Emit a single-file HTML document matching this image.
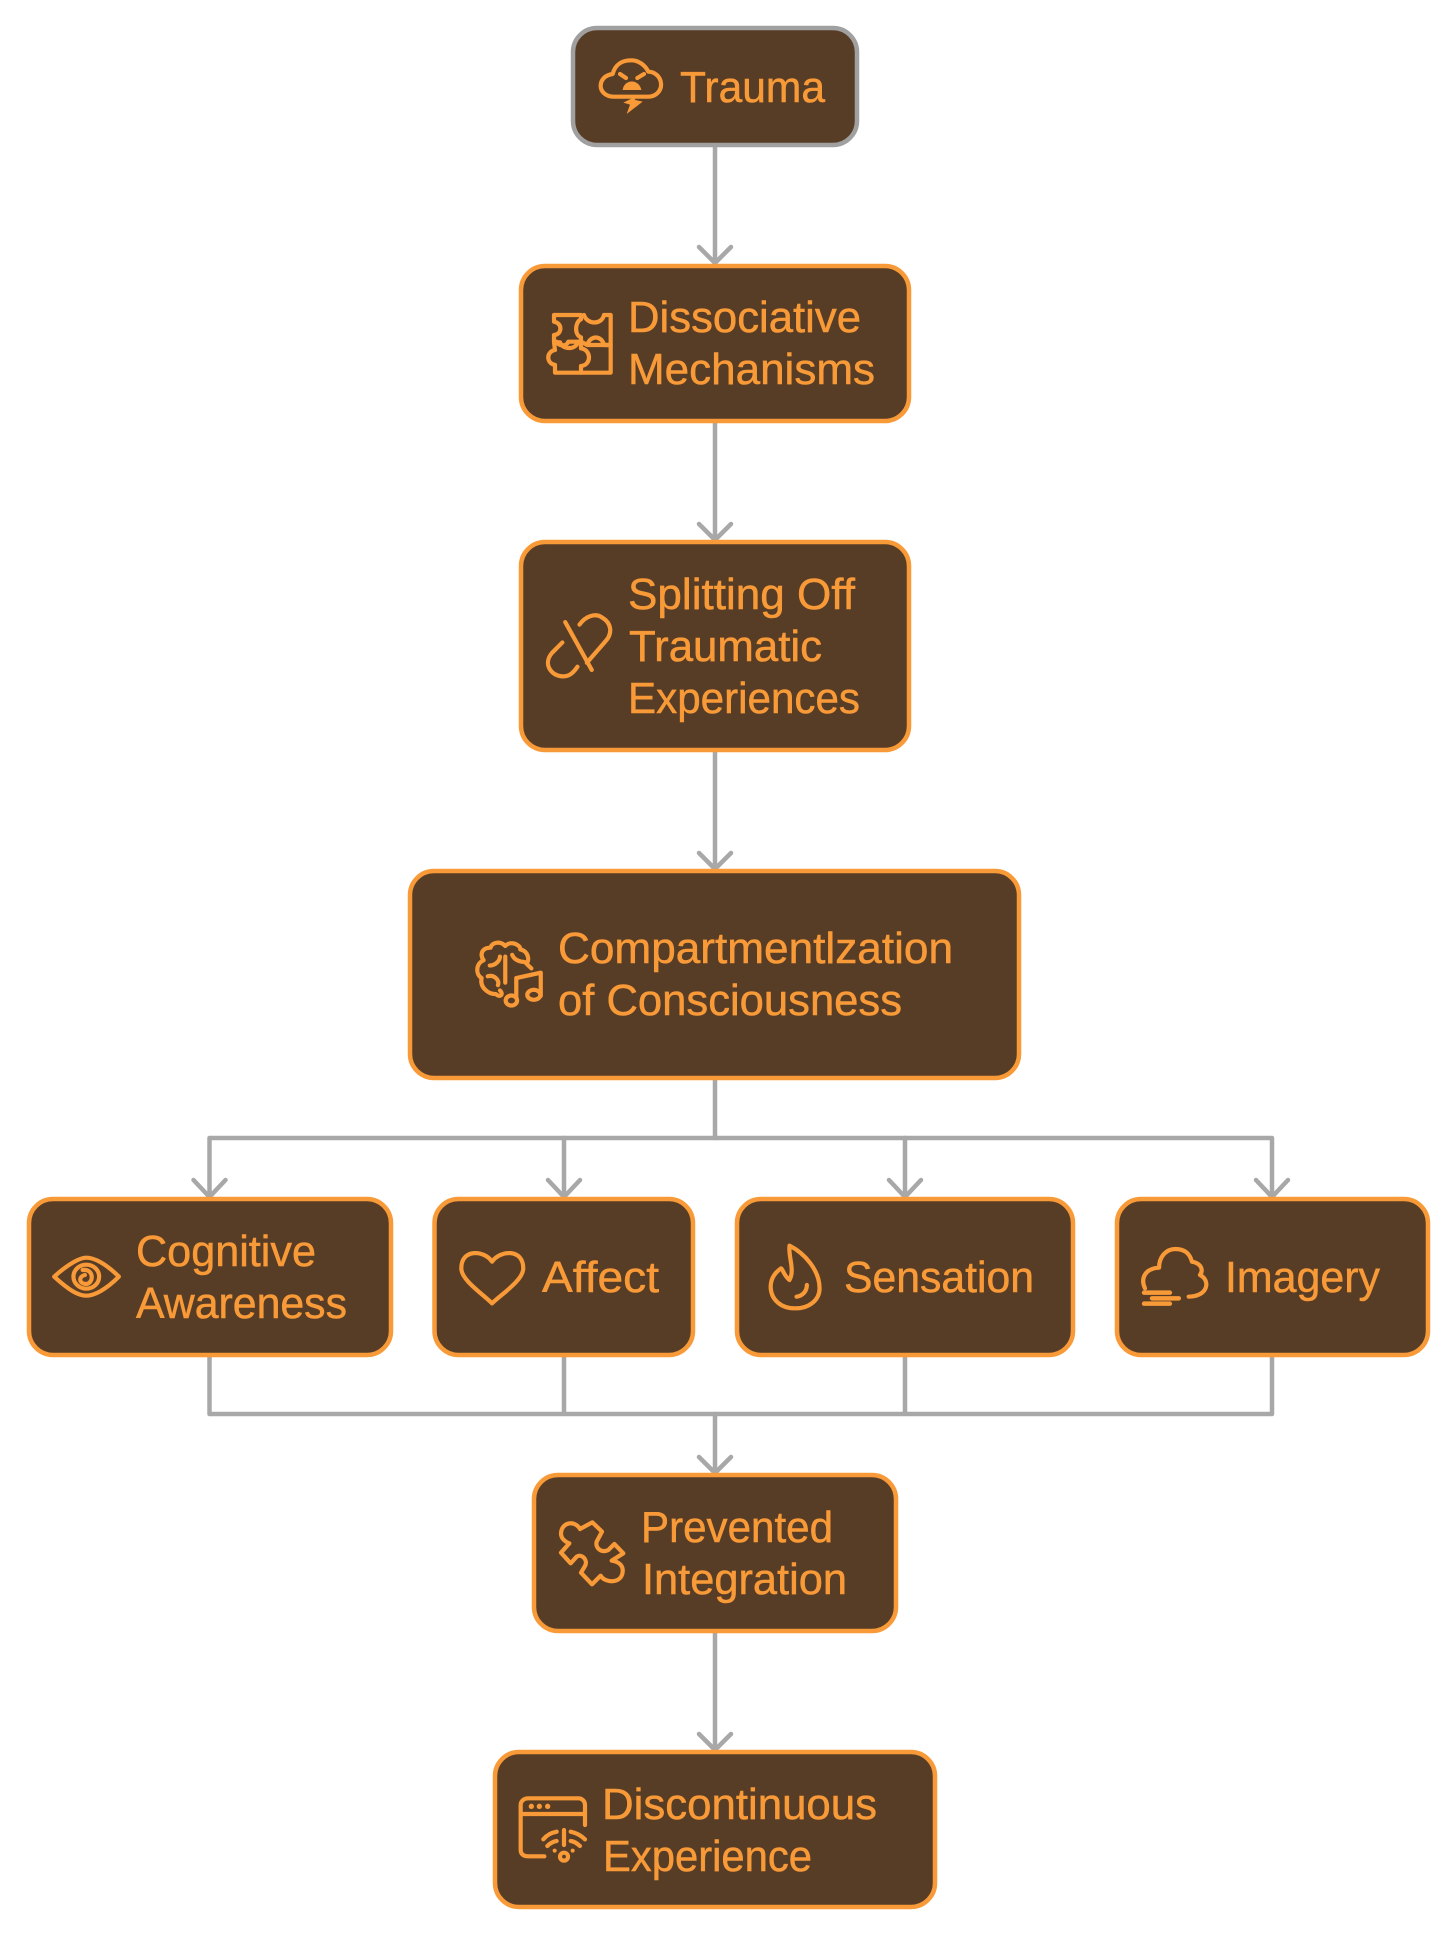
<!DOCTYPE html>
<html>
<head>
<meta charset="utf-8">
<style>
html,body{margin:0;padding:0;background:#fff;}
svg{display:block;}
text{font-family:"Liberation Sans",Arial,sans-serif;font-size:44px;fill:#f99a38;stroke:#f99a38;stroke-width:.5px;}
.n{fill:#583d26;stroke:#f99a38;stroke-width:4.500;}
.c{fill:none;stroke:#a8a8a8;stroke-width:4.500;stroke-linecap:round;stroke-linejoin:round;}
.i *{fill:none;stroke:#f99a38;stroke-width:4.200;stroke-linecap:round;stroke-linejoin:round;vector-effect:non-scaling-stroke;}
.i .f{fill:#f99a38;stroke:none;}
</style>
</head>
<body>
<svg width="1456" height="1936" viewBox="0 0 1456 1936" xmlns="http://www.w3.org/2000/svg">
<rect width="1456" height="1936" fill="#fff"/>

<!-- connectors -->
<g class="c">
<path d="M715 147V262M699 247L715 263L731 247"/>
<path d="M715 423V539M699 524L715 540L731 524"/>
<path d="M715 751V868M699 853L715 869L731 853"/>
<path d="M715 1080V1138"/>
<path d="M209.500 1196V1138H1272V1196"/>
<path d="M564 1138V1196M905 1138V1196"/>
<path d="M193.500 1180L209.500 1197L225.500 1180M548 1180L564 1197L580 1180M889 1180L905 1197L921 1180M1256 1180L1272 1197L1288 1180"/>
<path d="M209.500 1357V1414H1272V1357M564 1357V1414M905 1357V1414"/>
<path d="M715 1414V1472M699 1457L715 1473L731 1457"/>
<path d="M715 1633V1749M699 1734L715 1750L731 1734"/>
</g>

<!-- nodes -->
<rect class="n" x="573" y="28" width="284" height="117" rx="24" style="stroke:#a0a0a0"/>
<rect class="n" x="521" y="266" width="388" height="155" rx="24"/>
<rect class="n" x="521" y="542" width="388" height="208" rx="24"/>
<rect class="n" x="410" y="871" width="609" height="207" rx="24"/>
<rect class="n" x="29" y="1199" width="362" height="156" rx="24"/>
<rect class="n" x="434.500" y="1199" width="258.500" height="156" rx="24"/>
<rect class="n" x="737" y="1199" width="336" height="156" rx="24"/>
<rect class="n" x="1117" y="1199" width="311" height="156" rx="24"/>
<rect class="n" x="534" y="1475" width="362" height="156" rx="24"/>
<rect class="n" x="495" y="1752" width="440" height="155" rx="24"/>

<!-- labels -->
<text x="680" y="102" textLength="145" lengthAdjust="spacingAndGlyphs">Trauma</text>
<text x="628" y="332" textLength="233" lengthAdjust="spacingAndGlyphs">Dissociative</text>
<text x="628" y="384" textLength="247" lengthAdjust="spacingAndGlyphs">Mechanisms</text>
<text x="628" y="609" textLength="227" lengthAdjust="spacingAndGlyphs">Splitting Off</text>
<text x="629" y="661" textLength="193" lengthAdjust="spacingAndGlyphs">Traumatic</text>
<text x="628" y="713" textLength="232" lengthAdjust="spacingAndGlyphs">Experiences</text>
<text x="558" y="963" textLength="395" lengthAdjust="spacingAndGlyphs">Compartmentlzation</text>
<text x="558" y="1015" textLength="344" lengthAdjust="spacingAndGlyphs">of Consciousness</text>
<text x="136" y="1266" textLength="180" lengthAdjust="spacingAndGlyphs">Cognitive</text>
<text x="136" y="1318" textLength="211" lengthAdjust="spacingAndGlyphs">Awareness</text>
<text x="542" y="1292" textLength="117" lengthAdjust="spacingAndGlyphs">Affect</text>
<text x="844" y="1292" textLength="190" lengthAdjust="spacingAndGlyphs">Sensation</text>
<text x="1225" y="1292" textLength="155" lengthAdjust="spacingAndGlyphs">Imagery</text>
<text x="641" y="1542" textLength="192" lengthAdjust="spacingAndGlyphs">Prevented</text>
<text x="642" y="1594" textLength="205" lengthAdjust="spacingAndGlyphs">Integration</text>
<text x="602" y="1819" textLength="275" lengthAdjust="spacingAndGlyphs">Discontinuous</text>
<text x="603" y="1871" textLength="209" lengthAdjust="spacingAndGlyphs">Experience</text>

<!-- icons: trauma cloud + puzzle -->
<g class="i" transform="translate(500,0) scale(.33333)">
<path d="M340 290H445C470 290 485 270 483 250C481 228 462 215 445 215C435 195 415 180 392 181C365 181 345 195 338 222C315 225 302 240 302 258C302 275 318 290 340 290Z"/>
<path d="M360 222L378 234M432 222L412 234"/>
<path class="f" d="M368 270C372 236 418 236 424 270Z"/>
<path class="f" d="M402 292L370 308L390 314L380 342L428 305L406 300Z"/>
<path d="M162 945H243V958C225 965 222 1005 243 1012V1025H205C200 1040 175 1040 170 1025H162V1005C185 1005 190 970 162 965Z"/>
<path d="M252 945C262 975 305 975 312 945H332V1035H312C305 1005 270 1005 262 1035L243 1025"/>
<path d="M162 1027H180C188 1050 225 1050 234 1027H243V1045C275 1050 275 1095 243 1098V1118H165V1095C138 1090 138 1055 165 1050Z"/>
<path d="M265 1035H332V1118H243"/>
</g>

<!-- icons: pill + brain -->
<g class="i" transform="translate(400,530) scale(.408,.357)">
<path d="M405 258L470 392"/>
<path d="M440 265C455 240 480 232 495 245C520 262 520 290 505 310L458 372"/>
<path d="M398 315L372 345C350 375 370 410 400 410C415 410 425 400 435 383"/>
<path d="M258 1165C245 1150 225 1155 222 1170C200 1170 195 1190 205 1205C185 1215 185 1245 200 1255C195 1280 215 1300 235 1300C245 1312 255 1300 245 1290"/>
<path d="M258 1165C270 1150 295 1160 295 1175C315 1180 318 1205 310 1215L322 1228"/>
<path d="M258 1195V1268M220 1220C235 1220 245 1205 245 1195M215 1250C230 1245 245 1260 240 1275M275 1190C280 1205 295 1210 305 1210"/>
<path d="M285 1310V1255L345 1240V1305"/>
<ellipse cx="273" cy="1318" rx="14" ry="14"/>
<ellipse cx="328" cy="1302" rx="16" ry="14"/>
</g>

<!-- icons: eye + heart -->
<g class="i" transform="translate(0,1100) scale(.459,.33333)">
<path d="M118 530C150 490 175 473 188 473C205 473 230 490 259 530C230 570 205 587 188 587C170 587 150 570 118 530Z"/>
<ellipse cx="188" cy="530" rx="28" ry="36"/>
<path d="M180 510C205 505 205 550 188 552C172 552 170 530 185 525"/>
<path d="M1072 485C1055 450 1005 445 1005 505C1005 540 1050 580 1072 610C1095 580 1140 540 1140 505C1140 445 1090 450 1072 485Z"/>
</g>

<!-- icons: flame + fog cloud -->
<g class="i" transform="translate(720,1100) scale(.4696,.33333)">
<path d="M148 437C145 470 160 510 148 540C135 525 135 510 130 505C115 520 107 540 108 565C110 600 130 625 160 625C190 625 212 600 212 565C212 510 180 460 148 437Z"/>
<path d="M185 555C185 575 175 588 163 590"/>
<path d="M905 565C895 535 905 505 935 503C935 470 950 447 970 447C995 447 1002 470 1005 485C1025 490 1030 510 1022 525C1045 540 1040 590 998 590"/>
<path d="M903 578H958M920 595H977M903 611H958" style="stroke-width:4.500"/>
</g>

<!-- icons: puzzle piece + browser -->
<g class="i" transform="translate(480,1440) scale(.33333)">
<path d="M300 267C285 240 245 245 243 280C243 295 255 305 268 310L243 338L272 370L290 350C305 340 325 360 315 378L303 398L336 433L362 407C375 430 425 432 428 395C430 375 415 365 395 362L430 340L403 312L385 330C365 340 345 325 350 305L366 275L337 247Z"/>
<path d="M315 1155V1095C315 1082 305 1075 295 1075H145C130 1075 122 1085 122 1095V1230C122 1242 130 1249 145 1249H193"/>
<path d="M122 1122H315"/>
<circle class="f" cx="154" cy="1099" r="8"/>
<circle class="f" cx="178" cy="1099" r="8"/>
<circle class="f" cx="203" cy="1099" r="8"/>
<path d="M252 1170V1215M190 1198C200 1185 215 1178 230 1175M315 1198C300 1183 285 1178 272 1175M202 1218C210 1210 220 1205 230 1203M300 1218C290 1210 285 1205 272 1203"/>
<circle class="f" cx="224" cy="1232" r="6"/>
<circle class="f" cx="278" cy="1232" r="6"/>
<circle cx="252" cy="1250" r="12"/>
</g>
</svg>
</body>
</html>
